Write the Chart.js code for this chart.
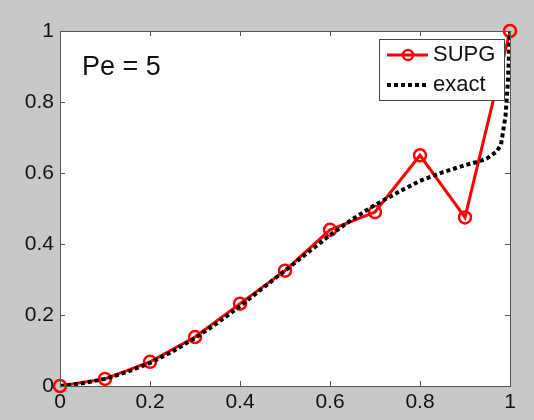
<!DOCTYPE html>
<html>
<head>
<meta charset="utf-8">
<script src="https://cdn.jsdelivr.net/npm/chart.js@4/dist/chart.umd.min.js"></script>
<style>
html, body { margin: 0; padding: 0; background: #c8c8c8; }
</style>
</head>
<body>
<canvas id="supgChart" width="534" height="420"></canvas>
<script>
const supgColor = "#ff0000"
const exactColor = "#000000"
const fontFamily = "'Liberation Sans', Arial, sans-serif"

// nodal solution (SUPG)
const nodeX = [0, 0.1, 0.2, 0.3, 0.4, 0.5, 0.6, 0.7, 0.8, 0.9, 1]
const supgY = [0, 0.02, 0.068, 0.138, 0.232, 0.325, 0.44, 0.49, 0.65, 0.475, 1]

// exact solution
const exactX = [0, 0.05, 0.1, 0.15, 0.2, 0.25, 0.3, 0.35, 0.4, 0.45, 0.5, 0.55, 0.6, 0.65, 0.7, 0.75, 0.8, 0.85, 0.9, 0.93, 0.95, 0.97, 0.98, 0.99, 0.995, 1]
const exactY = [0, 0.008, 0.02, 0.04, 0.065, 0.097, 0.135, 0.178, 0.225, 0.275, 0.325, 0.375, 0.425, 0.47, 0.51, 0.545, 0.578, 0.602, 0.622, 0.632, 0.642, 0.66, 0.68, 0.76, 0.85, 1]

const tickValues = [0, 0.2, 0.4, 0.6, 0.8, 1]
const legendLabels = ["SUPG", "exact"]
const annotation = "Pe = 5"

const toPoints = (xs, ys) => xs.map((x, i) => ({ x: x, y: ys[i] }))
const fmt = v => String(+v.toFixed(1))

// white axes box, inward ticks, legend and the Pe label
const matlabAxes = {
    id: 'matlabAxes',
    beforeDraw(chart) {
        const a = chart.chartArea, ctx = chart.ctx
        ctx.save()
        ctx.fillStyle = "#ffffff"
        ctx.fillRect(a.left, a.top, a.right - a.left, a.bottom - a.top)
        ctx.restore()
    },
    afterDatasetsDraw(chart) {
        const a = chart.chartArea, ctx = chart.ctx
        const xs = chart.scales.x, ys = chart.scales.y
        ctx.save()
        ctx.strokeStyle = "#555555"
        ctx.lineWidth = 1
        ctx.beginPath()
        tickValues.forEach(v => {
            const px = Math.round(xs.getPixelForValue(v)) + 0.5
            ctx.moveTo(px, a.bottom); ctx.lineTo(px, a.bottom - 5)
            ctx.moveTo(px, a.top); ctx.lineTo(px, a.top + 5)
            const py = Math.round(ys.getPixelForValue(v)) + 0.5
            ctx.moveTo(a.left, py); ctx.lineTo(a.left + 5, py)
            ctx.moveTo(a.right, py); ctx.lineTo(a.right - 5, py)
        })
        ctx.stroke()
        ctx.strokeRect(Math.round(a.left) + 0.5, Math.round(a.top) + 0.5, Math.round(a.right - a.left), Math.round(a.bottom - a.top))

        // Pe label
        ctx.fillStyle = "#111111"
        ctx.font = "27px " + fontFamily
        ctx.textBaseline = "middle"
        ctx.textAlign = "left"
        ctx.fillText(annotation, a.left + 22, a.top + 37)

        // legend box
        const bx = 379.5, by = 39.5, bw = 125, bh = 61
        ctx.fillStyle = "#ffffff"
        ctx.fillRect(bx, by, bw, bh)
        ctx.strokeStyle = "#444444"
        ctx.strokeRect(bx, by, bw, bh)
        const d0 = chart.data.datasets[0], d1 = chart.data.datasets[1]
        ctx.strokeStyle = d0.borderColor
        ctx.lineWidth = 3
        ctx.beginPath(); ctx.moveTo(387, 55); ctx.lineTo(428, 55); ctx.stroke()
        ctx.lineWidth = 2.5
        ctx.beginPath(); ctx.arc(408, 55, 5, 0, Math.PI * 2); ctx.stroke()
        ctx.strokeStyle = d1.borderColor
        ctx.lineWidth = 4
        ctx.setLineDash([4, 3])
        ctx.beginPath(); ctx.moveTo(387, 85); ctx.lineTo(426, 85); ctx.stroke()
        ctx.setLineDash([])
        ctx.fillStyle = "#111111"
        ctx.font = "22px " + fontFamily
        ctx.fillText(legendLabels[0], 433, 55)
        ctx.fillText(legendLabels[1], 433, 85)
        ctx.restore()
    }
}

const chart = new Chart(document.getElementById("supgChart"), {
    type: 'line',
    data: {
        datasets: [{
            label: legendLabels[0],
            data: toPoints(nodeX, supgY),
            borderColor: supgColor,
            backgroundColor: "#ffffff",
            borderWidth: 3,
            pointRadius: 6,
            pointBorderWidth: 2.5,
            pointBackgroundColor: "rgba(255,255,255,0)",
            pointBorderColor: supgColor,
            tension: 0,
            clip: false,
            order: 1
        }, {
            label: legendLabels[1],
            data: toPoints(exactX, exactY),
            borderColor: exactColor,
            borderWidth: 4,
            borderDash: [4, 3],
            pointRadius: 0,
            tension: 0,
            order: 0
        }]
    },
    options: {
        responsive: false,
        animation: false,
        layout: { padding: { left: 0, top: 31, right: 24, bottom: 0 } },
        plugins: { legend: { display: false }, tooltip: { enabled: false } },
        scales: {
            x: {
                type: 'linear', min: 0, max: 1,
                afterFit(s) { s.height = 34; s.paddingLeft = 0; s.paddingRight = 0 },
                afterBuildTicks(s) { s.ticks = tickValues.map(v => ({ value: v })) },
                grid: { display: false, drawTicks: false },
                border: { display: false },
                ticks: { color: "#111111", padding: 4, maxRotation: 0, font: { size: 21, family: fontFamily }, callback: fmt }
            },
            y: {
                type: 'linear', min: 0, max: 1,
                afterFit(s) { s.width = 60; s.paddingTop = 0; s.paddingBottom = 0 },
                afterBuildTicks(s) { s.ticks = tickValues.map(v => ({ value: v })) },
                grid: { display: false, drawTicks: false },
                border: { display: false },
                ticks: { color: "#111111", padding: 6, font: { size: 21, family: fontFamily }, callback: fmt }
            }
        }
    },
    plugins: [matlabAxes]
})
</script>
</body>
</html>
